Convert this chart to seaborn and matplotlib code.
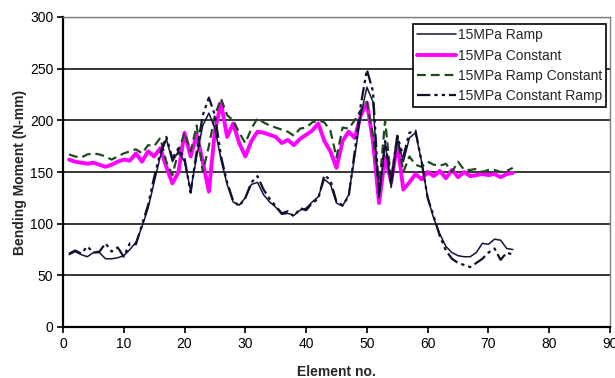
import numpy as np
import pandas as pd
import matplotlib
matplotlib.use("Agg")
import matplotlib.pyplot as plt
import seaborn as sns

elements = list(range(1, 75))

ramp = [70, 73, 70, 68, 72, 72, 66, 66, 67, 69,
        75, 82, 97, 115, 140, 165, 182, 160, 170, 160,
        132, 165, 195, 207, 192, 162, 138, 121, 118, 125,
        138, 140, 128, 121, 116, 109, 110, 108, 113, 115,
        121, 126, 143, 138, 120, 117, 128, 165, 205, 232,
        218, 125, 178, 135, 182, 160, 183, 188, 160, 125,
        105, 90, 78, 72, 69, 68, 68, 72, 81, 80,
        85, 84, 76, 75]

constant = [162, 160, 159, 158, 159, 157, 155, 157, 160, 162,
            161, 168, 160, 170, 165, 173, 155, 139, 150, 188,
            165, 186, 160, 131, 190, 217, 184, 197, 178, 165,
            180, 189, 188, 186, 184, 178, 181, 176, 182, 186,
            190, 197, 180, 170, 154, 180, 189, 183, 205, 217,
            180, 120, 165, 140, 178, 133, 140, 148, 143, 150,
            146, 151, 144, 152, 145, 150, 146, 147, 148, 147,
            148, 145, 148, 149]

ramp_constant = [167, 165, 164, 167, 168, 167, 165, 162, 165, 168,
                 170, 172, 168, 176, 175, 183, 160, 147, 170, 188,
                 170, 195, 150, 175, 205, 221, 205, 200, 188, 178,
                 192, 202, 198, 195, 193, 191, 189, 185, 192, 193,
                 198, 200, 198, 190, 164, 193, 192, 200, 210, 218,
                 185, 134, 200, 140, 185, 150, 165, 157, 155, 160,
                 157, 156, 158, 150, 160, 152, 152, 153, 150, 152,
                 152, 150, 151, 154]

constant_ramp = [71, 74, 71, 78, 72, 73, 81, 73, 77, 68,
                 81, 80, 99, 118, 145, 168, 184, 163, 173, 163,
                 130, 170, 205, 222, 205, 165, 140, 122, 117, 125,
                 140, 146, 133, 124, 117, 110, 112, 107, 115, 113,
                 120, 124, 147, 142, 121, 118, 126, 170, 215, 249,
                 228, 128, 180, 140, 185, 165, 188, 190, 160, 125,
                 107, 88, 74, 66, 62, 60, 58, 62, 66, 72,
                 76, 65, 72, 70]

labels = ["15MPa Ramp", "15MPa Constant", "15MPa Ramp Constant", "15MPa Constant Ramp"]
yticks = [0, 50, 100, 150, 200, 250, 300]
xticks = [0, 10, 20, 30, 40, 50, 60, 70, 80, 90]

sns.set_theme(style="white")
plt.rcParams['font.family'] = ['Liberation Sans', 'DejaVu Sans']

fig = plt.figure(figsize=(6.15, 3.78), dpi=100)
ax = fig.add_axes([63/615, 1-327/378, (610-63)/615, (327-17)/378])

styles = [
    dict(color="#14143c", lw=1.1, ls="-"),
    dict(color="#ff00ff", lw=2.8, ls="-"),
    dict(color="#1e4a1e", lw=1.6, ls=(0, (4, 2.2))),
    dict(color="#10102e", lw=1.6, ls=(0, (6, 1.8, 1.5, 1.8, 1.5, 1.8))),
]
series = [ramp, constant, ramp_constant, constant_ramp]
zorders = [5, 3, 4, 6]
for s, lab, st, z in zip(series, labels, styles, zorders):
    df = pd.DataFrame({"Element": elements, "Moment": s})
    sns.lineplot(data=df, x="Element", y="Moment", ax=ax, label=lab,
                 color=st["color"], linewidth=st["lw"], linestyle=st["ls"],
                 zorder=z)

ax.set_xlim(0, 90)
ax.set_ylim(0, 300)
ax.set_xticks(xticks)
ax.set_yticks(yticks)
ax.tick_params(axis="both", which="major", direction="out", length=4, width=1.2,
               labelsize=10, colors="black", left=True, bottom=True, pad=3)
for y in yticks[1:-1]:
    ax.axhline(y, color="black", lw=1.1, zorder=1)
ax.axhline(300, color="#808080", lw=1.0, zorder=1)
ax.spines["left"].set_color("black")
ax.spines["left"].set_linewidth(1.6)
ax.spines["bottom"].set_color("black")
ax.spines["bottom"].set_linewidth(1.6)
ax.spines["top"].set_color("#808080")
ax.spines["top"].set_linewidth(1.0)
ax.spines["right"].set_color("#808080")
ax.spines["right"].set_linewidth(1.0)
ax.grid(False)

ax.set_xlabel("Element no.", fontsize=10, fontweight="bold", labelpad=10)
ax.set_ylabel("Bending Moment (N-mm)", fontsize=10, fontweight="bold", labelpad=2)

leg = ax.legend(loc="upper right", bbox_to_anchor=(0.993, 0.977), borderaxespad=0,
                fontsize=10, frameon=True, fancybox=False, framealpha=1,
                edgecolor="black", handlelength=2.8, handletextpad=0.15,
                labelspacing=0.45, borderpad=0.3)
leg.get_frame().set_linewidth(1.2)

fig.savefig("out.png", dpi=100)
